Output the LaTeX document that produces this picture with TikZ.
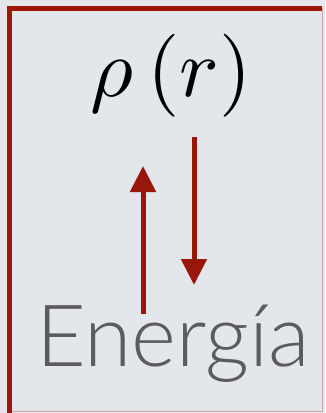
\documentclass[tikz,border=0pt]{standalone}
\usepackage{fontspec}
\newfontfamily\enfont{Lato Light}
\usetikzlibrary{arrows.meta}
\definecolor{bgc}{RGB}{227,230,235}
\definecolor{bordred}{RGB}{158,24,10}
\definecolor{arrred}{RGB}{152,22,10}
\definecolor{faintred}{RGB}{215,165,165}
\definecolor{txtgray}{RGB}{92,92,92}
\tikzset{
  flow/.style={draw=arrred, line width=5pt, -{Triangle[length=26pt,width=25pt]}},
  border/.style={draw=bordred, line width=4.8pt},
  faint/.style={draw=faintred, line width=1pt},
}
\begin{document}
\begin{tikzpicture}[x=1pt,y=-1pt]
\useasboundingbox (0,0) rectangle (325,413);
\fill[bgc] (0,0) rectangle (325,413);
\draw[faint] (322,8) -- (322,411) -- (9.5,411);
\draw[border] (322,8.2) -- (9.6,8.2) -- (9.6,413);
\node[anchor=base, inner sep=0pt] (rho) at (171,96) {\scalebox{8.3}{$\rho\,(r)$}};
\node[anchor=base, inner sep=0pt, text=txtgray, font=\enfont\fontsize{86}{86}\selectfont] (en) at (173,366) {Energía};
\coordinate (ustart) at (143,314);
\coordinate (uend) at (143,166);
\coordinate (dstart) at (194,137);
\coordinate (dend) at (194,285);
\draw[flow] (ustart) -- (uend);
\draw[flow] (dstart) -- (dend);
\end{tikzpicture}
\end{document}
